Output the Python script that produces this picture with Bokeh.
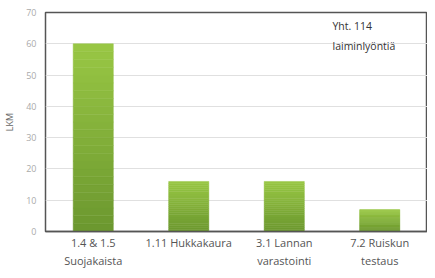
from bokeh.plotting import figure
from bokeh.models import Label, SingleIntervalTicker, ColumnDataSource
from bokeh.embed import file_html
from bokeh.resources import INLINE

categories = ["1.4 & 1.5\nSuojakaista", "1.11 Hukkakaura", "3.1 Lannan\nvarastointi", "7.2 Ruiskun\ntestaus"]
values = [60, 16, 16, 7]
y_ticks = [0, 10, 20, 30, 40, 50, 60, 70]
note_text = "Yht. 114\nlaiminlyöntiä"

p = figure(x_range=categories, y_range=(0, 70), width=427, height=270,
           output_backend="svg", toolbar_location=None,
           min_border_left=3, min_border_right=0, min_border_top=12, min_border_bottom=0)

# gradient bars: stacked bands derived from each value
N = 24
top_c = (0x98, 0xc6, 0x44)
bot_c = (0x6c, 0x98, 0x2f)
xs, bottoms, tops, colors = [], [], [], []
for c, v in zip(categories, values):
    for i in range(N):
        t = i / (N - 1)
        col = tuple(int(round(bot_c[k] + (top_c[k] - bot_c[k]) * t)) for k in range(3))
        xs.append(c)
        bottoms.append(v * i / N)
        tops.append(v * (i + 1) / N)
        colors.append("#%02x%02x%02x" % col)
src = ColumnDataSource(dict(x=xs, bottom=bottoms, top=tops, color=colors))
p.vbar(x="x", bottom="bottom", top="top", width=0.42, fill_color="color",
       line_color="color", line_width=0.5, source=src)

p.outline_line_color = "#555555"
p.outline_line_width = 1.5
p.xgrid.grid_line_color = None
p.ygrid.grid_line_color = "#e0e0e0"
p.ygrid.ticker = SingleIntervalTicker(interval=10)

p.yaxis.ticker = y_ticks
p.yaxis.axis_label = "LKM"
p.yaxis.axis_label_text_font = "Open Sans"
p.yaxis.axis_label_text_font_size = "9px"
p.yaxis.axis_label_text_font_style = "normal"
p.yaxis.axis_label_text_color = "#666666"
p.yaxis.axis_label_standoff = 7
p.yaxis.major_label_text_font = "Open Sans"
p.yaxis.major_label_text_font_size = "9px"
p.yaxis.major_label_text_color = "#aaaaaa"
p.yaxis.axis_line_color = None
p.yaxis.major_tick_line_color = None
p.yaxis.minor_tick_line_color = None
p.yaxis.major_tick_out = 0
p.yaxis.major_label_standoff = 9

p.xaxis.axis_line_color = "#555555"
p.xaxis.axis_line_width = 1.5
p.xaxis.major_tick_line_color = None
p.xaxis.major_tick_out = 0
p.xaxis.major_label_text_font = "Open Sans"
p.xaxis.major_label_text_font_size = "11px"
p.xaxis.major_label_text_color = "#555555"
p.xaxis.major_label_standoff = 3

p.add_layout(Label(x=287, y=68, x_units="screen", y_units="data", text=note_text,
                   text_font="Open Sans", text_font_size="10.5px", text_color="#333333",
                   text_baseline="top", text_line_height=1.45))

open("out.html", "w").write(file_html(p, INLINE))
